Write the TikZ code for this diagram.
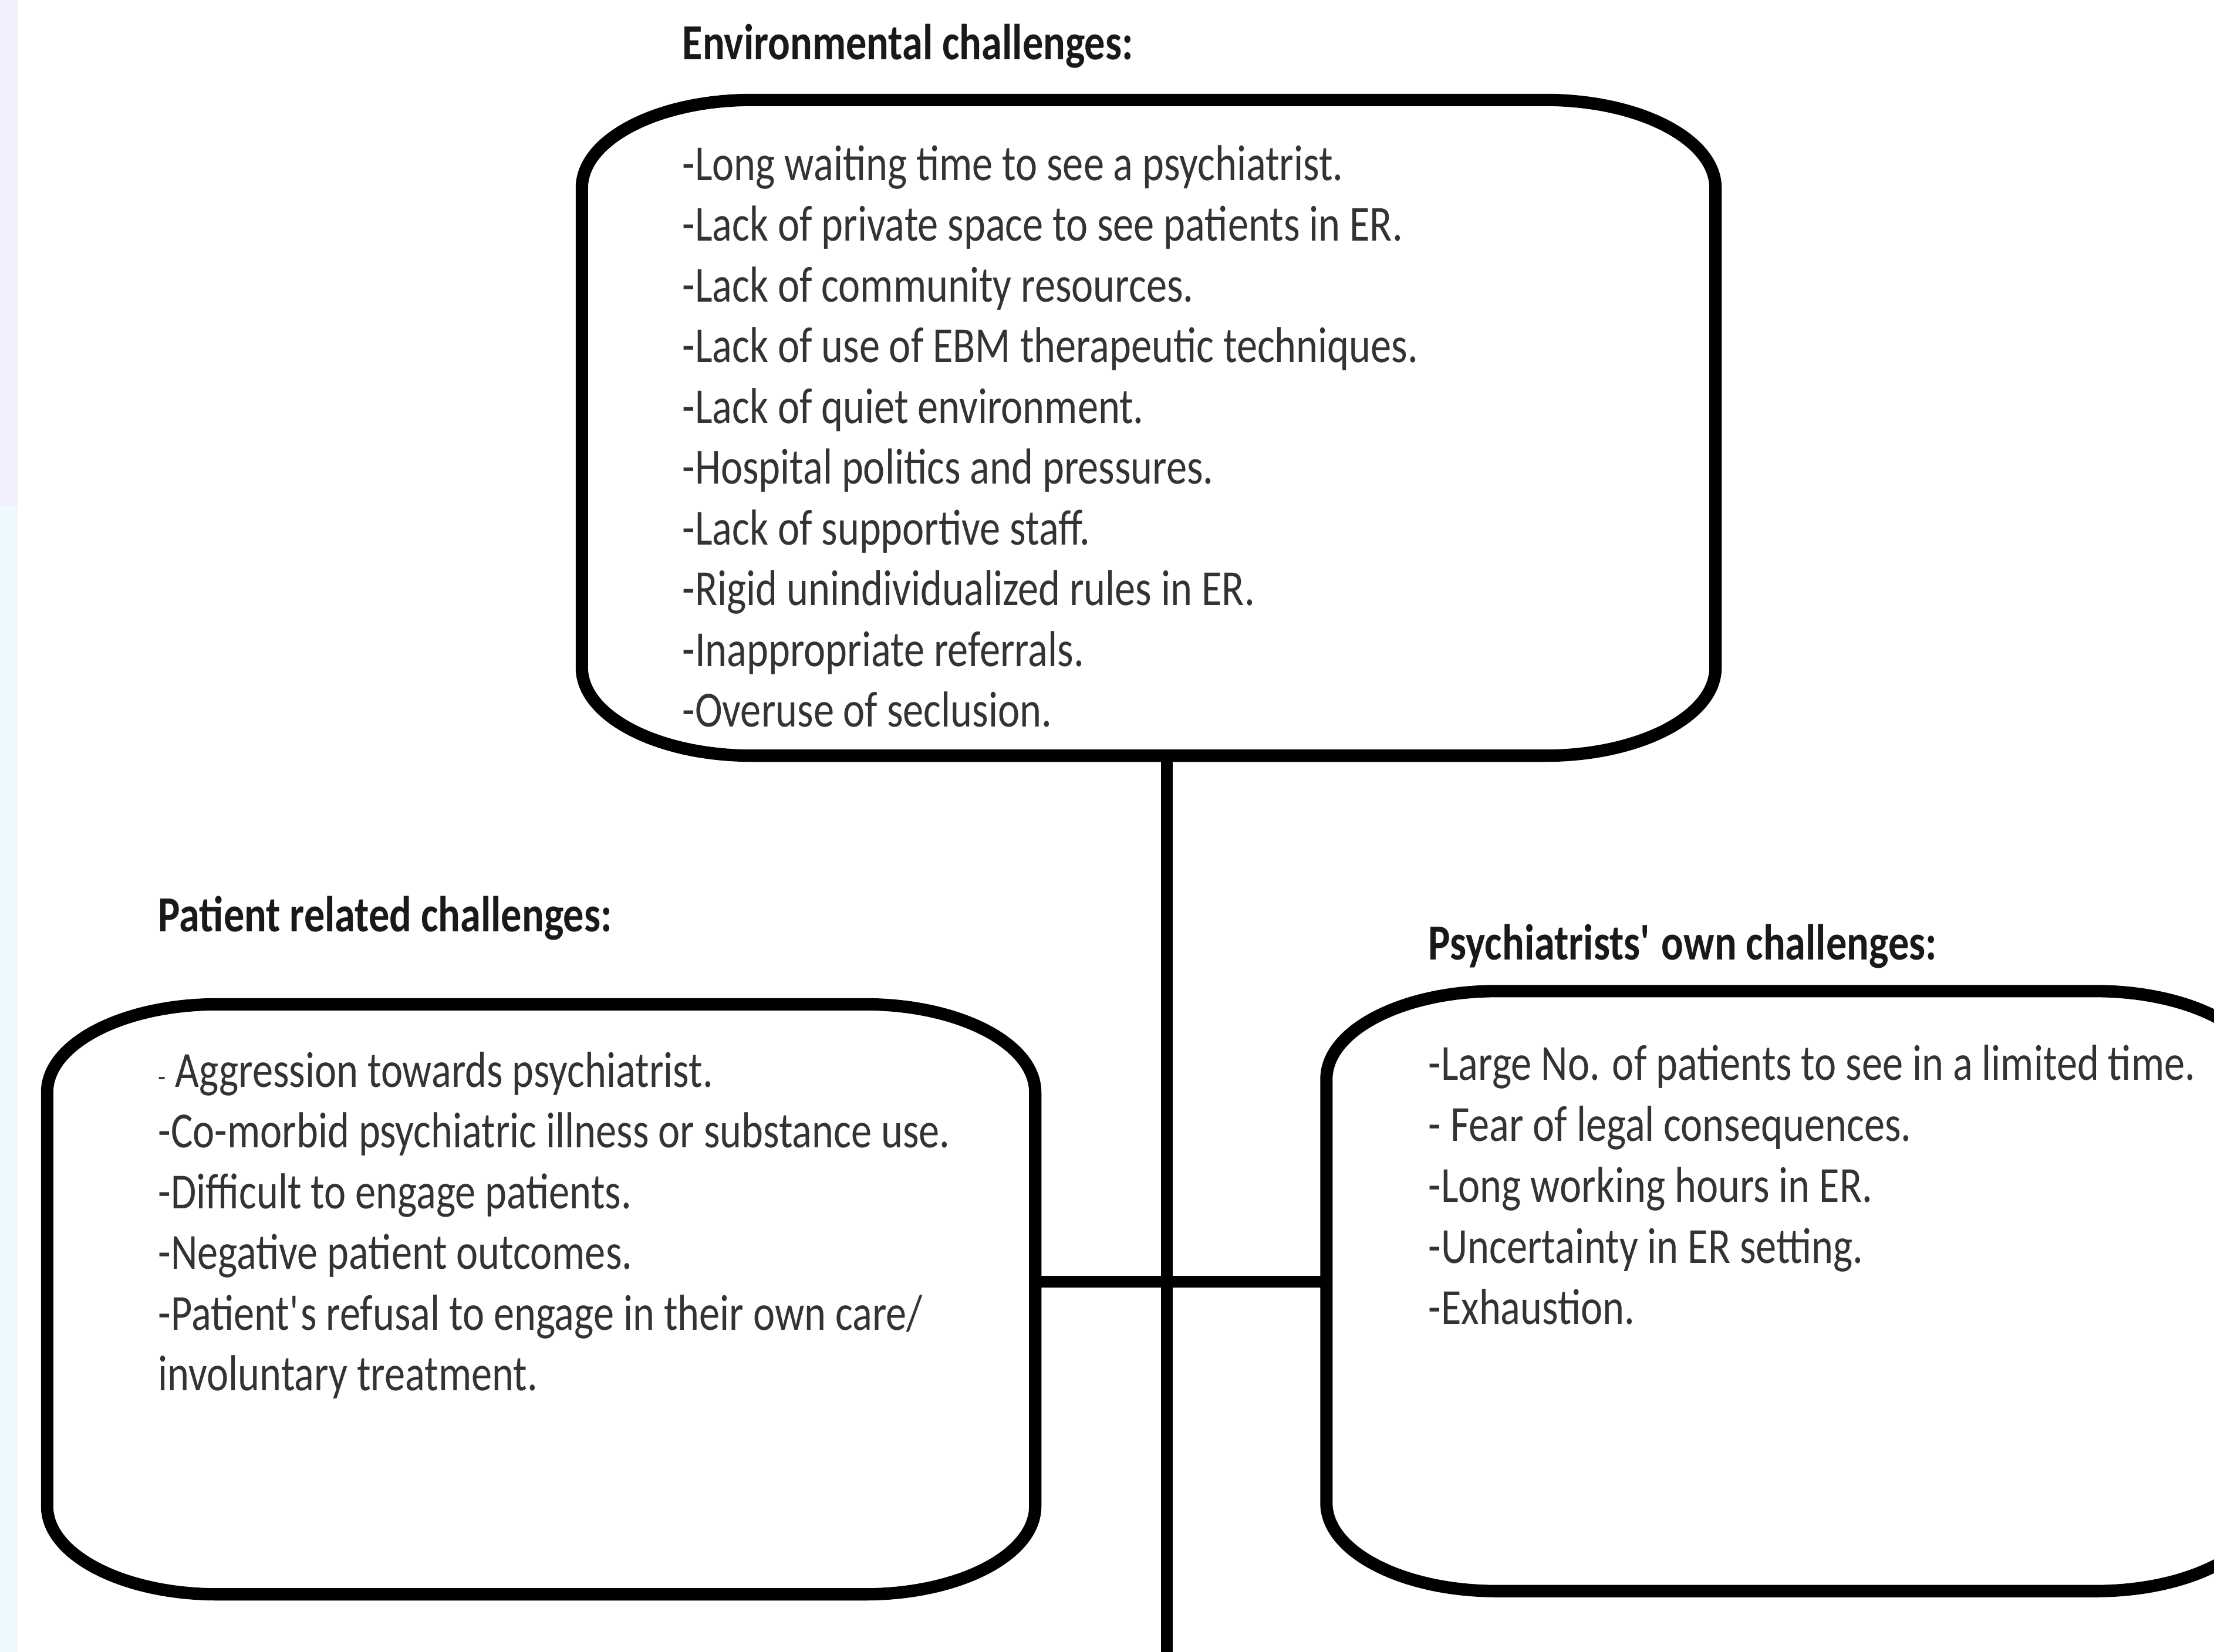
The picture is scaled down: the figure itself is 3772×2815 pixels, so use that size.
\documentclass[tikz,border=0pt]{standalone}
\usepackage{fontspec}
\setmainfont{Carlito}[FakeStretch=0.817]
\usetikzlibrary{positioning}

% elliptic-cornered frame round a named node
\newcommand{\ovalframe}[1]{%
  \draw[frame] ([xshift=29mm]#1.north west) -- ([xshift=-29mm]#1.north east)
    arc[start angle=90, end angle=0, x radius=29mm, y radius=15mm]
    -- ([yshift=15mm]#1.south east)
    arc[start angle=0, end angle=-90, x radius=29mm, y radius=15mm]
    -- ([xshift=29mm]#1.south west)
    arc[start angle=270, end angle=180, x radius=29mm, y radius=15mm]
    -- ([yshift=-15mm]#1.north west)
    arc[start angle=180, end angle=90, x radius=29mm, y radius=15mm] -- cycle;}

\begin{document}
\begin{tikzpicture}[x=0.1mm, y=-0.1mm,
      box/.style = {rectangle, inner sep=0pt},
      frame/.style = {line width=6pt, line join=round},
      link/.style = {line width=5.5pt},
      title/.style = {anchor=base west, inner sep=0pt, text=black!90,
        font=\fontsize{24.5}{29.4}\selectfont\bfseries},
      item/.style = {anchor=base west, inner sep=0pt, text=black!80,
        font=\fontsize{24.5}{29.4}\selectfont}]
      \useasboundingbox (0,0) rectangle (3772,2815);
      \fill[white] (0,0) rectangle (3772,2815);
      \fill[blue!6!white] (0,0) rectangle (30,862);
      \fill[cyan!7!white] (0,862) rectangle (30,2815);

      % the three boxes
      \node[box, minimum width=193mm, minimum height=111.6mm] (env) at (1957,729) {};
      \node[box, minimum width=168.2mm, minimum height=100.4mm] (patient) at (922,2214) {};
      \node[box, minimum width=159.9mm, minimum height=102.1mm] (psych) at (3060,2200) {};
      \ovalframe{env}
      \ovalframe{patient}
      \ovalframe{psych}

      % headings
      \node[title] (envtitle) at (1162,102) {Environmental challenges:};
      \node[title] (pattitle) at (269,1587) {Patient related challenges:};
      \node[title] (psytitle) at (2433,1635) {Psychiatrists\textquotesingle{} own challenges:};

      % lists
      \foreach \t [count=\i] in {-Long waiting time to see a psychiatrist.,
          -Lack of private space to see patients in ER.,
          -Lack of community resources.,
          -Lack of use of EBM therapeutic techniques.,
          -Lack of quiet environment.,
          -Hospital politics and pressures.,
          -Lack of supportive staff.,
          -Rigid unindividualized rules in ER.,
          -Inappropriate referrals.,
          -Overuse of seclusion.}
        \node[item] (env-\i) at (1162,{307+103.5*(\i-1)}) {\t};
      \foreach \t [count=\i] in {{\fontsize{15}{18}\selectfont-} Aggression towards psychiatrist.,
          -Co-morbid psychiatric illness or substance use.,
          -Difficult to engage patients.,
          -Negative patient outcomes.,
          -Patient\textquotesingle{}s refusal to engage in their own care/,
          involuntary treatment.}
        \node[item] (pat-\i) at (269,{1852+103.5*(\i-1)}) {\t};
      \foreach \t [count=\i] in {-Large No. of patients to see in a limited time.,
          - Fear of legal consequences.,
          -Long working hours in ER.,
          -Uncertainty in ER setting.,
          -Exhaustion.}
        \node[item] (psy-\i) at (2433,{1840+104*(\i-1)}) {\t};

      % connectors
      \coordinate (hub) at (1988,2184);
      \coordinate (foot) at (1988,2840);
      \draw[link] (foot |- env.south) -- (foot);
      \draw[link] (patient.east |- hub) -- (psych.west |- hub);
    \end{tikzpicture}
\end{document}
